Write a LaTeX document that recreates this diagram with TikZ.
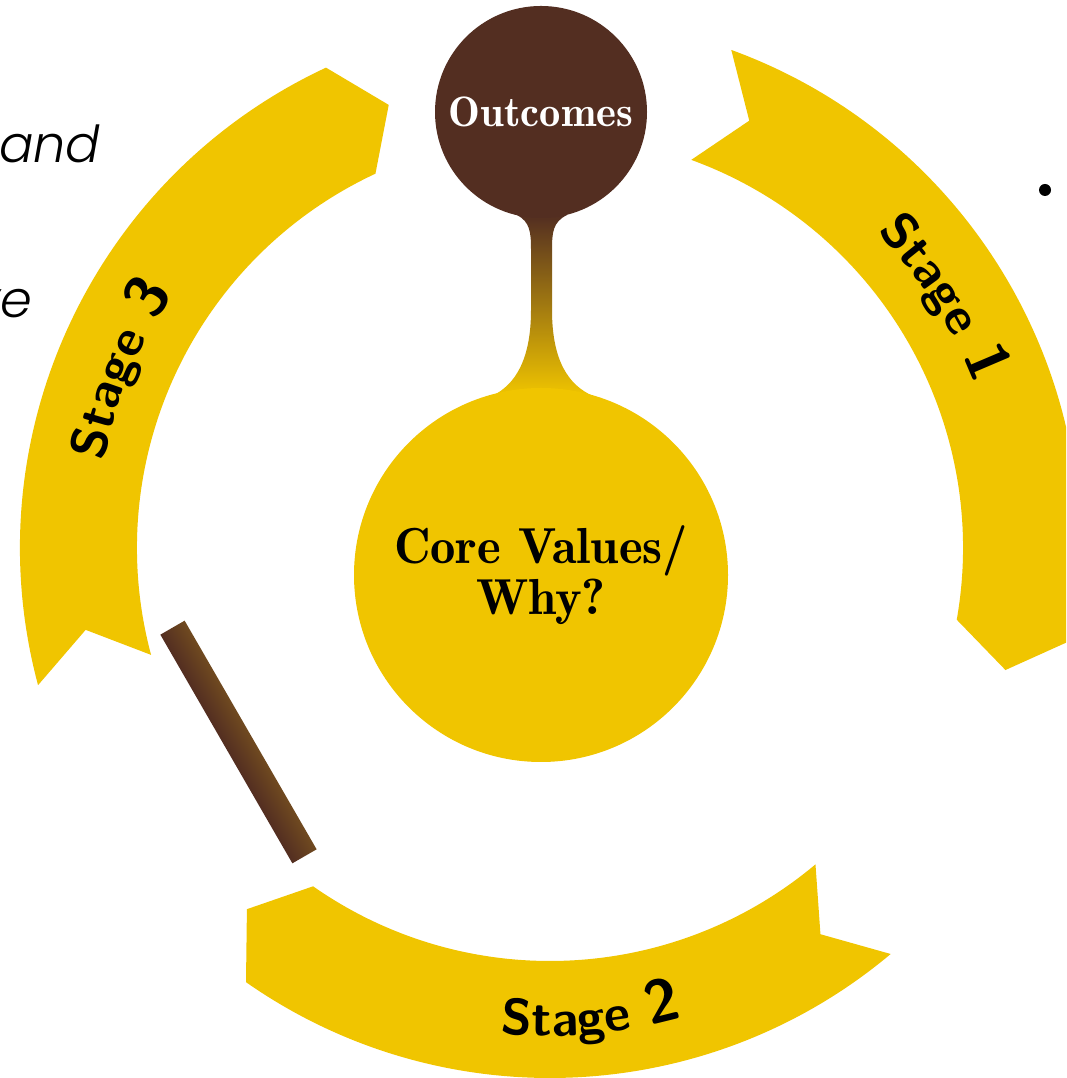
\documentclass[tikz,border=0pt]{standalone}
\usepackage{fontspec}
\newfontfamily\slidefont{Poppins}[UprightFont=* Light Italic]
\usepackage{tikz}
\usetikzlibrary{positioning}
\usetikzlibrary{decorations.text}
\usetikzlibrary{calc}

\definecolor{stageyellow}{RGB}{240,197,0}
\definecolor{outbrown}{RGB}{83,46,33}
\definecolor{barlight}{RGB}{112,74,32}
\newcommand{\stagefont}{\sffamily\bfseries\Large}
\newcommand{\stagenum}{\sffamily\bfseries\LARGE}
\newcommand{\corefont}{\fontseries{b}\fontsize{14.4}{13}\selectfont}
\newcommand{\outfont}{\fontseries{b}\fontsize{12.1}{14}\selectfont}

\begin{document}
\begin{tikzpicture}[stagetext/.style={decorate,decoration={text along path,text align=center,text={#1}}}]
\useasboundingbox (-5.50,-5.30) rectangle (5.16,5.48);
\clip (-5.50,-5.30) rectangle (5.16,5.48);

% slide text cut off at the edges
\node[anchor=base east,font=\slidefont\fontsize{14.5}{16}\selectfont,inner sep=0] (and) at (-4.49,3.85) {and};
\node[anchor=base east,font=\slidefont\fontsize{14.5}{16}\selectfont,inner sep=0] (ve) at (-5.17,2.30) {ve};
\node[circle,fill=black,inner sep=0,minimum size=0.12cm] (bullet) at (4.95,3.58) {};

% the three stages
\fill[stageyellow] (70:5.3) arc[start angle=70,end angle=-10,radius=5.3] -- (-15:4.715) -- (-10:4.13) arc[start angle=-10,end angle=70,radius=4.13] -- (65:4.715) -- cycle;
\fill[stageyellow] (-50:5.3) arc[start angle=-50,end angle=-125,radius=5.3] -- (-130:4.715) -- (-125:4.13) arc[start angle=-125,end angle=-50,radius=4.13] -- (-55:4.715) -- cycle;
\fill[stageyellow] (195:5.3) arc[start angle=195,end angle=115,radius=5.3] -- (110:4.715) -- (115:4.13) arc[start angle=115,end angle=195,radius=4.13] -- (190:4.715) -- cycle;

\path[stagetext={|\stagefont|Stage |\stagenum|1}] (72.5:4.55) arc[start angle=72.5,end angle=-7.5,radius=4.55];
\path[stagetext={|\stagefont|Stage |\stagenum|2}] (-122.5:4.88) arc[start angle=-122.5,end angle=-47.5,radius=4.88];
\path[stagetext={|\stagefont|Stage |\stagenum|3}] (197.5:4.55) arc[start angle=197.5,end angle=117.5,radius=4.55];

% brown bar
\begin{scope}[transform canvas={shift={(-3.115,-1.94)},rotate=-60}]
\shade[top color=barlight,bottom color=outbrown] (-1.32,-0.14) rectangle (1.32,0.14);
\end{scope}

% neck between the circles
\shade[top color=outbrown,bottom color=stageyellow] (-0.33,3.33) .. controls (-0.20,3.26) and (-0.19,3.16) .. (-0.19,2.98) -- (-0.19,2.38)
  .. controls (-0.19,1.88) and (-0.35,1.63) .. (-0.58,1.52) -- (0.43,1.52)
  .. controls (0.18,1.63) and (0.02,1.88) .. (0.02,2.38) -- (0.02,2.98)
  .. controls (0.02,3.16) and (0.03,3.26) .. (0.17,3.33) -- cycle;

\node[circle,fill=stageyellow,inner sep=0,minimum size=3.74cm,align=center,font=\corefont] (core) at (-0.09,-0.27) {Core Values/\\Why?};
\node[circle,fill=outbrown,inner sep=0,minimum size=2.12cm,text=white,font=\outfont] (outcomes) at (-0.09,4.36) {Outcomes};

\end{tikzpicture}
\end{document}
